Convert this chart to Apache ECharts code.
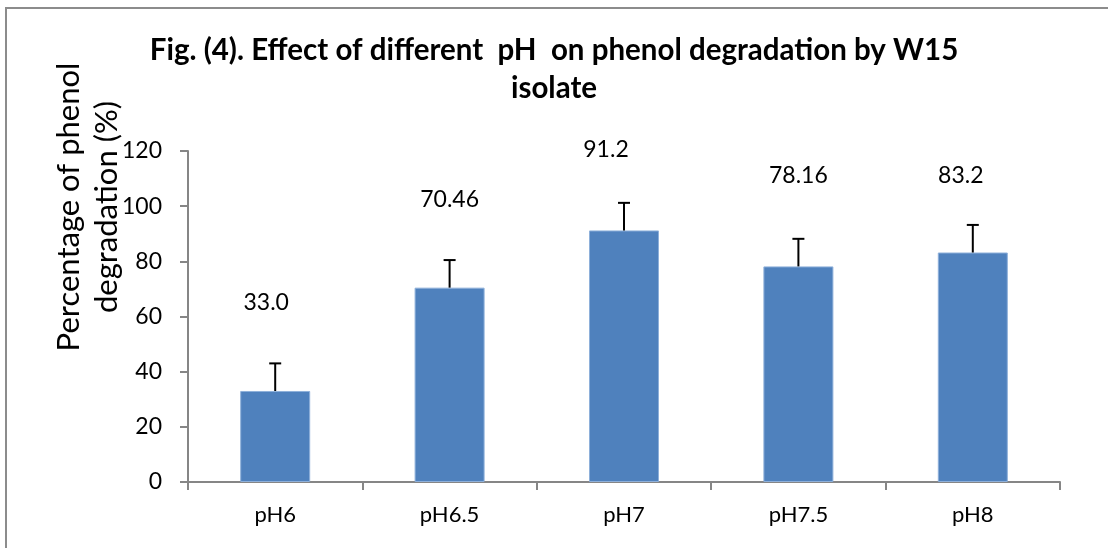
<!DOCTYPE html>
<html>
<head>
<meta charset="utf-8">
<style>html,body{margin:0;padding:0;background:#fff;}#c{width:1108px;height:548px;}</style>
<script src="https://cdn.jsdelivr.net/npm/echarts@6/dist/echarts.min.js"></script>
</head>
<body>
<div id="c"></div>
<script>
const categories = ['pH6', 'pH6.5', 'pH7', 'pH7.5', 'pH8'];
const degradation = [33.0, 70.46, 91.2, 78.16, 83.2];
const errors = [10, 10, 10, 10, 10];
const labelTexts = ['33.0', '70.46', '91.2', '78.16', '83.2'];
const yTicks = { min: 0, max: 120, interval: 20 };
const titleText = 'Fig. (4). Effect of different  pH  on phenol degradation by W15\nisolate';
const yAxisTitle = 'Percentage of phenol\ndegradation (%)';

// label placement (style only): pixel shifts from bar top
const labelDx = [-9, 0, -18, 0, -12];
const labelDy = [88, 88, 81, 91, 77];

const FONT = 'Lato';
const chart = echarts.init(document.getElementById('c'), null, { renderer: 'canvas' });

const barData = degradation.map((v, i) => ({
  value: v,
  label: {
    show: true,
    formatter: labelTexts[i],
    position: [35 + labelDx[i], -labelDy[i]],
    align: 'center',
    verticalAlign: 'middle',
    fontFamily: FONT,
    fontSize: 23,
    color: '#000'
  }
}));

const errData = degradation.map((v, i) => [i, v, v + errors[i]]);

chart.setOption({
  animation: false,
  backgroundColor: '#fff',
  title: {
    text: titleText,
    left: 'center',
    top: 26,
    textStyle: { fontFamily: FONT, fontWeight: 'bold', fontSize: 29.5, lineHeight: 38, color: '#000' }
  },
  graphic: [
    {
      type: 'rect', silent: true, z: -1,
      shape: { x: 6, y: 8, width: 1200, height: 700 },
      style: { fill: 'none', stroke: '#8c8c8c', lineWidth: 2 }
    },
    {
      type: 'text', silent: true,
      x: 88, y: 207, rotation: Math.PI / 2,
      style: {
        text: yAxisTitle, fontFamily: FONT, fontSize: 31, lineHeight: 38,
        fill: '#000', align: 'center', verticalAlign: 'middle'
      }
    }
  ],
  grid: { left: 188, right: 48, top: 151, bottom: 66, containLabel: false },
  xAxis: {
    type: 'category',
    data: categories,
    axisLine: { lineStyle: { color: '#868686', width: 2 } },
    axisTick: { show: true, length: 8, lineStyle: { color: '#868686', width: 2 } },
    axisLabel: { fontFamily: FONT, fontSize: 22, color: '#000', margin: 22 },
    splitLine: { show: false }
  },
  yAxis: {
    type: 'value',
    min: yTicks.min, max: yTicks.max, interval: yTicks.interval,
    axisLine: { show: true, lineStyle: { color: '#868686', width: 2 } },
    axisTick: { show: true, length: 8, lineStyle: { color: '#868686', width: 2 } },
    axisLabel: { fontFamily: FONT, fontSize: 23, color: '#000', margin: 26 },
    splitLine: { show: false }
  },
  series: [
    {
      type: 'bar',
      data: barData,
      barWidth: 70,
      itemStyle: { color: '#4F81BD', borderColor: '#8eb0da', borderWidth: 1 },
      z: 2
    },
    {
      type: 'custom',
      data: errData,
      z: 3,
      renderItem: function (params, api) {
        const x = api.value(0);
        const base = api.coord([x, api.value(1)]);
        const top = api.coord([x, api.value(2)]);
        const cap = 6;
        return {
          type: 'group',
          children: [
            { type: 'line', shape: { x1: base[0], y1: base[1], x2: top[0], y2: top[1] }, style: { stroke: '#000', lineWidth: 2 } },
            { type: 'line', shape: { x1: top[0] - cap, y1: top[1], x2: top[0] + cap, y2: top[1] }, style: { stroke: '#000', lineWidth: 2 } }
          ]
        };
      }
    }
  ]
});
</script>
</body>
</html>
